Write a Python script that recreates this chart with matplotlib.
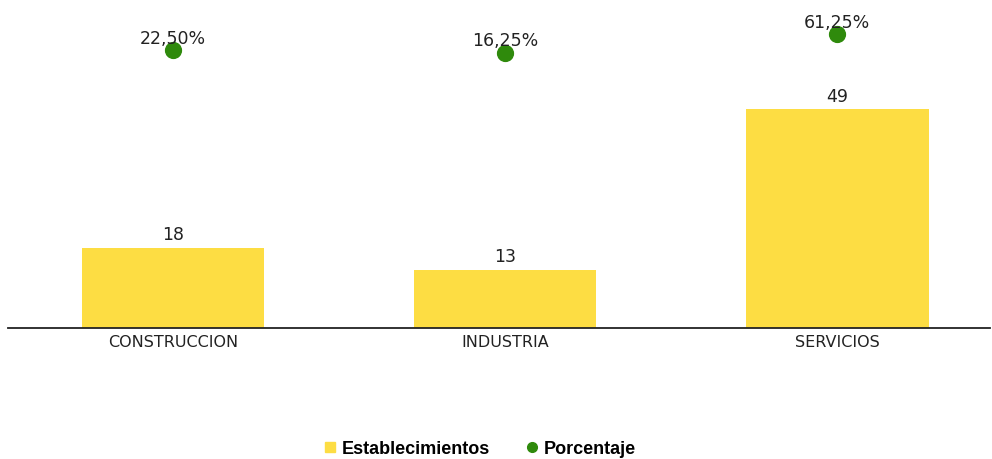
import matplotlib
matplotlib.use('Agg')
import matplotlib.pyplot as plt
from matplotlib.lines import Line2D

categorias = ['CONSTRUCCION', 'INDUSTRIA', 'SERVICIOS']
establecimientos = [18, 13, 49]
porcentaje = [22.50, 16.25, 61.25]
etiquetas_pct = ['22,50%', '16,25%', '61,25%']

amarillo = '#FDDD43'
verde = '#2F8A0C'

fig = plt.figure(figsize=(9.92, 4.59), dpi=100)
# axes: x 8..990 px, y baseline 328 px, top 10 px
ax = fig.add_axes([8 / 992, (459 - 328) / 459, 982 / 992, 318 / 459])
x = list(range(len(categorias)))
ax.bar(x, establecimientos, width=0.55, color=amarillo, zorder=2)
for xi, v in zip(x, establecimientos):
    ax.text(xi, v + 0.8, str(v), ha='center', va='bottom', fontsize=12.5, color='#222222')
ax.set_xlim(-0.497, 2.46)
ax.set_ylim(0, 318 / 4.46)
for s in ['top', 'right', 'left']:
    ax.spines[s].set_visible(False)
ax.spines['bottom'].set_linewidth(1.3)
ax.spines['bottom'].set_color('#222222')
ax.set_yticks([])
ax.set_xticks(x)
ax.set_xticklabels(categorias, fontsize=11.5, color='#222222')
ax.tick_params(axis='x', length=0, pad=5)

ax2 = ax.twinx()
k = 0.413
ax2.set_ylim((59.3 - 328) / k, (59.3 - 10) / k)
ax2.scatter(x, porcentaje, s=130, color=verde, zorder=3)
for xi, v, t in zip(x, porcentaje, etiquetas_pct):
    ax2.text(xi, v + 6, t, ha='center', va='bottom', fontsize=12.5, color='#222222', zorder=4)
ax2.set_yticks([])
for s in ax2.spines.values():
    s.set_visible(False)

handles = [Line2D([], [], marker='s', color=amarillo, linestyle='none', markersize=7, label='Establecimientos'),
           Line2D([], [], marker='o', color=verde, linestyle='none', markersize=7, label='Porcentaje')]
fig.legend(handles=handles, loc='center', bbox_to_anchor=(480 / 992, 1 - 449 / 459), ncol=2,
           frameon=False, prop={'family': 'Liberation Sans', 'weight': 'bold', 'size': 13},
           handlelength=0.6, handletextpad=0.35, columnspacing=2.0)

fig.savefig('out.png', dpi=100)
